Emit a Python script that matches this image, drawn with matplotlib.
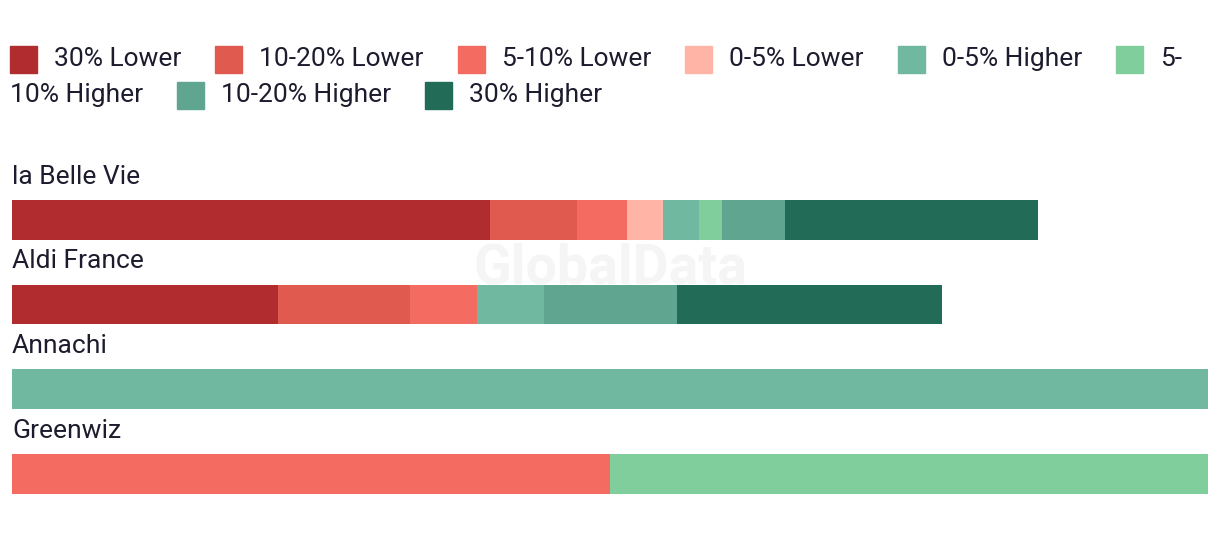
import matplotlib
matplotlib.use("Agg")
import matplotlib.pyplot as plt
from matplotlib.patches import Rectangle

# data
retailers = ["la Belle Vie", "Aldi France", "Annachi", "Greenwiz"]
bands = ["30% Lower", "10-20% Lower", "5-10% Lower", "0-5% Lower",
         "0-5% Higher", "5-10% Higher", "10-20% Higher", "30% Higher"]
colors = ["#B02C2E", "#E05A4F", "#F46C61", "#FFB4A5",
          "#70B8A0", "#80CE9C", "#60A58F", "#216B57"]

# share of products (%) in each band, per retailer
lower_30 = [40.0, 22.2, 0, 0]
lower_10_20 = [7.2, 11.1, 0, 0]
lower_5_10 = [4.2, 5.6, 0, 50.0]
lower_0_5 = [3.0, 0, 0, 0]
higher_0_5 = [3.0, 5.6, 100.0, 0]
higher_5_10 = [2.0, 0, 0, 50.0]
higher_10_20 = [5.2, 11.1, 0, 0]
higher_30 = [21.2, 22.2, 0, 0]
series = [lower_30, lower_10_20, lower_5_10, lower_0_5,
          higher_0_5, higher_5_10, higher_10_20, higher_30]

W, H = 1220, 538
text_color = "#1c1c2e"
font = "Roboto"
fsize = 19

fig = plt.figure(figsize=(W / 100, H / 100), dpi=100)

# axes placed so bars sit where the reference has them (pixel layout)
ax_top_px, ax_bot_px = 126.8, 533.0
ax = fig.add_axes([12 / W, 1 - ax_bot_px / H, 1196 / W, (ax_bot_px - ax_top_px) / H])
ax.set_xlim(0, 100)
ax.set_ylim(3.7, -1.1)
ax.axis("off")

left = [0.0] * len(retailers)
for vals, c in zip(series, colors):
    ax.barh(range(len(retailers)), vals, left=left, height=0.47, color=c, linewidth=0)
    left = [l + v for l, v in zip(left, vals)]

for i, name in enumerate(retailers):
    ax.text(0, i - 0.51, name, fontsize=fsize, family=font, color=text_color,
            ha="left", va="center")

# watermark
fig.text(610 / W, 1 - 268 / H, "GlobalData", fontsize=40, fontweight="bold",
         family=font, color="#f5f5f5", ha="center", va="center", zorder=0)

# legend, flowed manually so the last label wraps like the reference
fig.canvas.draw()
renderer = fig.canvas.get_renderer()
sq = 27
x, row_y = 10, 59
right_edge = 1205
for label, c in zip(bands, colors):
    fig.patches.append(Rectangle((x / W, 1 - (row_y + sq / 2) / H), sq / W, sq / H,
                                 transform=fig.transFigure, color=c, figure=fig))
    x += sq + 17
    t = fig.text(x / W, 1 - row_y / H, label, fontsize=fsize, family=font,
                 color=text_color, ha="left", va="center")
    w = t.get_window_extent(renderer).width
    if x + w > right_edge and "-" in label:
        head, tail = label.split("-", 1)
        t.set_text(head + "-")
        x, row_y = 10, row_y + 36
        t = fig.text(x / W, 1 - row_y / H, tail, fontsize=fsize, family=font,
                     color=text_color, ha="left", va="center")
        w = t.get_window_extent(renderer).width
    x += w + 34

fig.savefig("out.png", dpi=100)
